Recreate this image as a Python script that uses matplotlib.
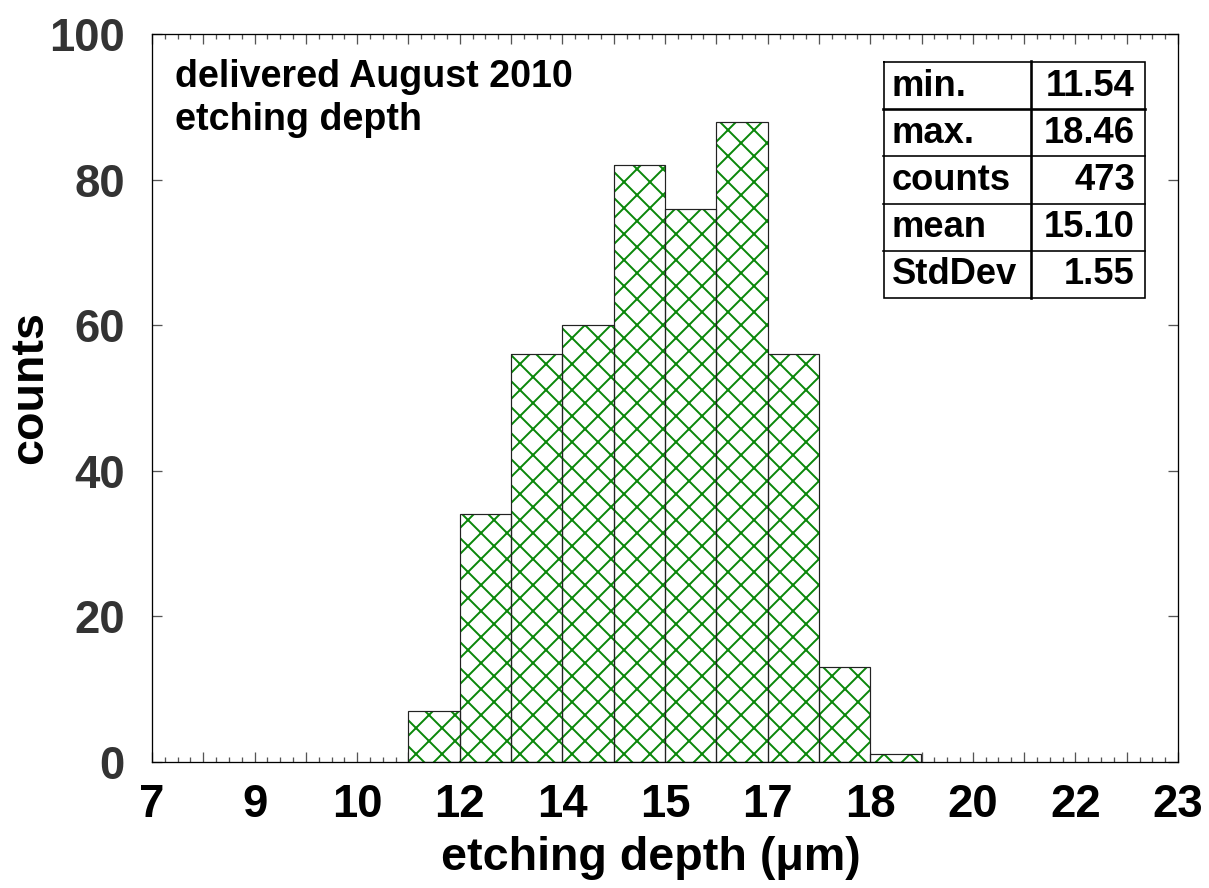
import numpy as np
import matplotlib
matplotlib.use("Agg")
import matplotlib.pyplot as plt
from matplotlib.ticker import FixedLocator, FixedFormatter, MultipleLocator
from matplotlib.lines import Line2D

# ---------------- data ----------------
bin_edges = [11.2, 12.0, 12.8, 13.6, 14.4, 15.2, 16.0, 16.8, 17.6, 18.4, 19.2]
counts = [7, 34, 56, 60, 82, 76, 88, 56, 13, 1]
xtick_labels = ['7', '9', '10', '12', '14', '15', '17', '18', '20', '22', '23']
x_range = (7.2, 23.2)
y_range = (0, 100)
ytick_values = [0, 20, 40, 60, 80, 100]
stat_names = ['min.', 'max.', 'counts', 'mean', 'StdDev']
stat_values = ['11.54', '18.46', '473', '15.10', '1.55']
note_lines = ['delivered August 2010', 'etching depth']
x_title = 'etching depth (\u03bcm)'
y_title = 'counts'

# ---------------- style ----------------
DPI = 156
W, H = 1209, 888
plt.rcParams['font.family'] = ['Liberation Sans', 'DejaVu Sans']
plt.rcParams['font.weight'] = 'bold'
plt.rcParams['hatch.linewidth'] = 0.9

fig = plt.figure(figsize=(W / DPI, H / DPI), dpi=DPI)
ax_l, ax_r, ax_b, ax_t = 152, 1178, 761.7, 34.3
ax = fig.add_axes([ax_l / W, (H - ax_b) / H, (ax_r - ax_l) / W, (ax_b - ax_t) / H])

green = '#0a870a'
lefts = np.array(bin_edges[:-1])
widths = np.diff(bin_edges)
ax.bar(lefts, counts, width=widths, align='edge', facecolor='white',
       edgecolor=green, linewidth=0, hatch='xx', zorder=2)
ax.bar(lefts, counts, width=widths, align='edge', fill=False,
       edgecolor='#222222', linewidth=0.55, zorder=3)

ax.set_xlim(*x_range)
ax.set_ylim(*y_range)

# x ticks
major_pos = np.linspace(x_range[0], x_range[1], 2 * len(xtick_labels) - 1)
major_lab = []
for i in range(len(major_pos)):
    major_lab.append(xtick_labels[i // 2] if i % 2 == 0 else '')
ax.xaxis.set_major_locator(FixedLocator(major_pos))
ax.xaxis.set_major_formatter(FixedFormatter(major_lab))
ax.xaxis.set_minor_locator(MultipleLocator(0.2))
ax.yaxis.set_major_locator(FixedLocator(ytick_values))
ax.yaxis.set_minor_locator(FixedLocator([]))

tick_col = '#555555'
ax.tick_params(axis='x', which='major', direction='in', length=4.6, width=0.6,
               color=tick_col, top=True, bottom=True, labelsize=21, pad=10,
               labelcolor='black')
ax.tick_params(axis='x', which='minor', direction='in', length=2.4, width=0.6,
               color=tick_col, top=True, bottom=True)
ax.tick_params(axis='y', which='major', direction='in', length=4.6, width=0.6,
               color=tick_col, left=True, right=True, labelsize=21, pad=12.5,
               labelcolor='#333333')
for lab in ax.get_xticklabels() + ax.get_yticklabels():
    lab.set_fontweight('bold')

for s in ax.spines.values():
    s.set_color('black')
    s.set_linewidth(0.6)
    s.set_zorder(5)

# axis titles
ax.set_xlabel(x_title, fontsize=21.5, fontweight='bold', color='black', va='baseline')
ax.xaxis.set_label_coords((651 - ax_l) / (ax_r - ax_l), (ax_b - 870) / (ax_b - ax_t))
ax.set_ylabel(y_title, fontsize=21.5, fontweight='bold', color='black', va='center')
ax.yaxis.set_label_coords((30 - ax_l) / (ax_r - ax_l), (ax_b - 387.5) / (ax_b - ax_t))


def ax_x(px):
    return (px - ax_l) / (ax_r - ax_l)


def ax_y(py):
    return (ax_b - py) / (ax_b - ax_t)


# note text
for i, line in enumerate(note_lines):
    ax.text(ax_x(175), ax_y(87 + 43 * i), line, transform=ax.transAxes,
            fontsize=17.4, fontweight='bold', color='black', va='baseline', ha='left')

# stats table
tx0, txd, tx1 = 884, 1031, 1145
ty0, row_h = 62, 47.2
nrows = len(stat_names)
T = ax.transAxes
thin, thick = 0.75, 1.2
ty1 = ty0 + row_h * nrows
box = [(tx0, ty0), (tx1, ty0), (tx1, ty1), (tx0, ty1), (tx0, ty0)]
ax.add_line(Line2D([ax_x(p[0]) for p in box], [ax_y(p[1]) for p in box],
                   transform=T, color='black', lw=thin, zorder=6, clip_on=False,
                   solid_joinstyle='miter'))
ax.add_line(Line2D([ax_x(txd), ax_x(txd)], [ax_y(ty0 - 1), ax_y(ty1)], transform=T,
                   color='black', lw=thick, zorder=6, clip_on=False))
for r in range(1, nrows):
    yy = ty0 + row_h * r
    ax.add_line(Line2D([ax_x(tx0 - 1.5), ax_x(tx1)], [ax_y(yy), ax_y(yy)], transform=T,
                       color='black', lw=thick if r == 1 else thin, zorder=6,
                       clip_on=False))
for r, (nm, val) in enumerate(zip(stat_names, stat_values)):
    base = ty0 + row_h * r + 33.5
    ax.text(ax_x(892), ax_y(base), nm, transform=T, fontsize=16.8,
            fontweight='bold', color='black', ha='left', va='baseline', zorder=7)
    ax.text(ax_x(1135), ax_y(base), val, transform=T, fontsize=16.8,
            fontweight='bold', color='black', ha='right', va='baseline', zorder=7)

fig.savefig('out.png', dpi=DPI, facecolor='white')
